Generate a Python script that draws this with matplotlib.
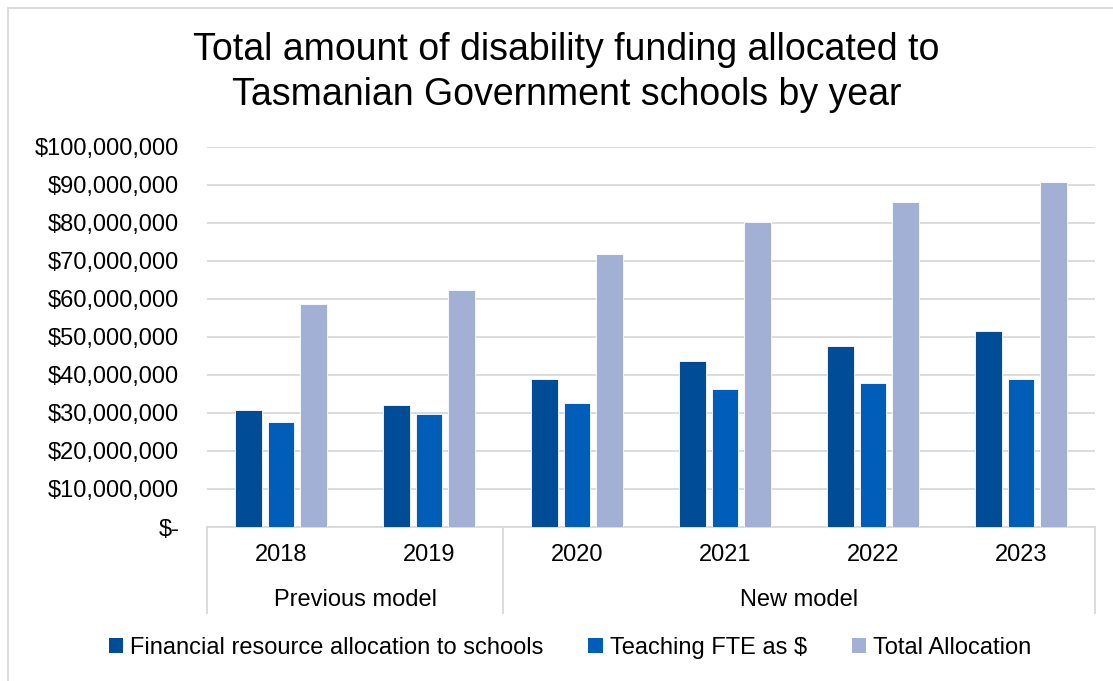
import matplotlib
matplotlib.use("Agg")
import matplotlib.pyplot as plt
from matplotlib.patches import Rectangle, Patch
from matplotlib.ticker import FuncFormatter, MultipleLocator
import matplotlib.transforms as mtransforms
import numpy as np

plt.rcParams['font.family'] = ['Liberation Sans', 'DejaVu Sans']

years = ['2018', '2019', '2020', '2021', '2022', '2023']
groups = ['Previous model', 'New model']
group_spans = [(0, 1), (2, 5)]
series_names = ['Financial resource allocation to schools', 'Teaching FTE as $', 'Total Allocation']
financial = [30.8e6, 32.2e6, 38.9e6, 43.8e6, 47.6e6, 51.6e6]
teaching = [27.7e6, 29.8e6, 32.7e6, 36.2e6, 38.0e6, 38.9e6]
total = [58.8e6, 62.3e6, 71.8e6, 80.2e6, 85.6e6, 90.7e6]
colors = ['#004C97', '#005EB8', '#A2B0D5']

fig = plt.figure(figsize=(11.13, 6.81), dpi=100)
W, H = 1113, 681
ax = fig.add_axes([207 / W, 1 - 527 / H, (1095 - 207) / W, (527 - 147) / H])

x = np.arange(len(years))
offs = [-0.22, 0.0, 0.22]
bw = 0.178
for vals, off, c, name in zip([financial, teaching, total], offs, colors, series_names):
    ax.bar(x + off, vals, width=bw, color=c, edgecolor='white', linewidth=0.6, label=name, zorder=3)

ax.set_xlim(-0.5, len(years) - 0.5)
ax.set_ylim(0, 100e6)
ax.yaxis.set_major_locator(MultipleLocator(10e6))

def fmt(v, pos):
    if v == 0:
        return '$-'
    return '${:,.0f}'.format(v)

ax.yaxis.set_major_formatter(FuncFormatter(fmt))
ax.grid(axis='y', color='#D9D9D9', linewidth=1.3, zorder=0)
ax.set_axisbelow(True)
for s in ['left', 'right', 'top']:
    ax.spines[s].set_visible(False)
ax.spines['bottom'].set_color('#D9D9D9')
ax.spines['bottom'].set_linewidth(1.3)
ax.tick_params(axis='y', length=0, pad=20, labelsize=17, labelcolor='#000000')
ax.tick_params(axis='x', length=0)
ax.set_xticks(x)
ax.set_xticklabels([])

trans = mtransforms.blended_transform_factory(ax.transData, fig.transFigure)
for xi, yl in zip(x, years):
    ax.text(xi, 1 - 555 / H, yl, transform=trans, ha='center', va='center', fontsize=17)
for (a, b), g in zip(group_spans, groups):
    ax.text((a + b) / 2, 1 - 600 / H, g, transform=trans, ha='center', va='center', fontsize=17)
for sep in [-0.5, 1.5, 5.5]:
    ax.plot([sep, sep], [1 - 527 / H, 1 - 613 / H], transform=trans, color='#D9D9D9',
            linewidth=1.3, clip_on=False)

fig.text(0.509, 1 - 50 / H, 'Total amount of disability funding allocated to', ha='center', va='center', fontsize=27)
fig.text(0.509, 1 - 95 / H, 'Tasmanian Government schools by year', ha='center', va='center', fontsize=27)

handles = [Patch(facecolor=c, edgecolor='none') for c in colors]
fig.legend(handles, series_names, loc='center', bbox_to_anchor=(570 / W, 1 - 648 / H), ncol=3,
           frameon=False, fontsize=17, handlelength=0.6, handleheight=0.6, handletextpad=0.3,
           columnspacing=1.9)

fig.patches.append(Rectangle((8 / W, -0.1), 1.2, 1 - 8 / H + 0.1, transform=fig.transFigure,
                             fill=False, edgecolor='#D9D9D9', linewidth=1.3))

fig.savefig('out.png', dpi=100)
